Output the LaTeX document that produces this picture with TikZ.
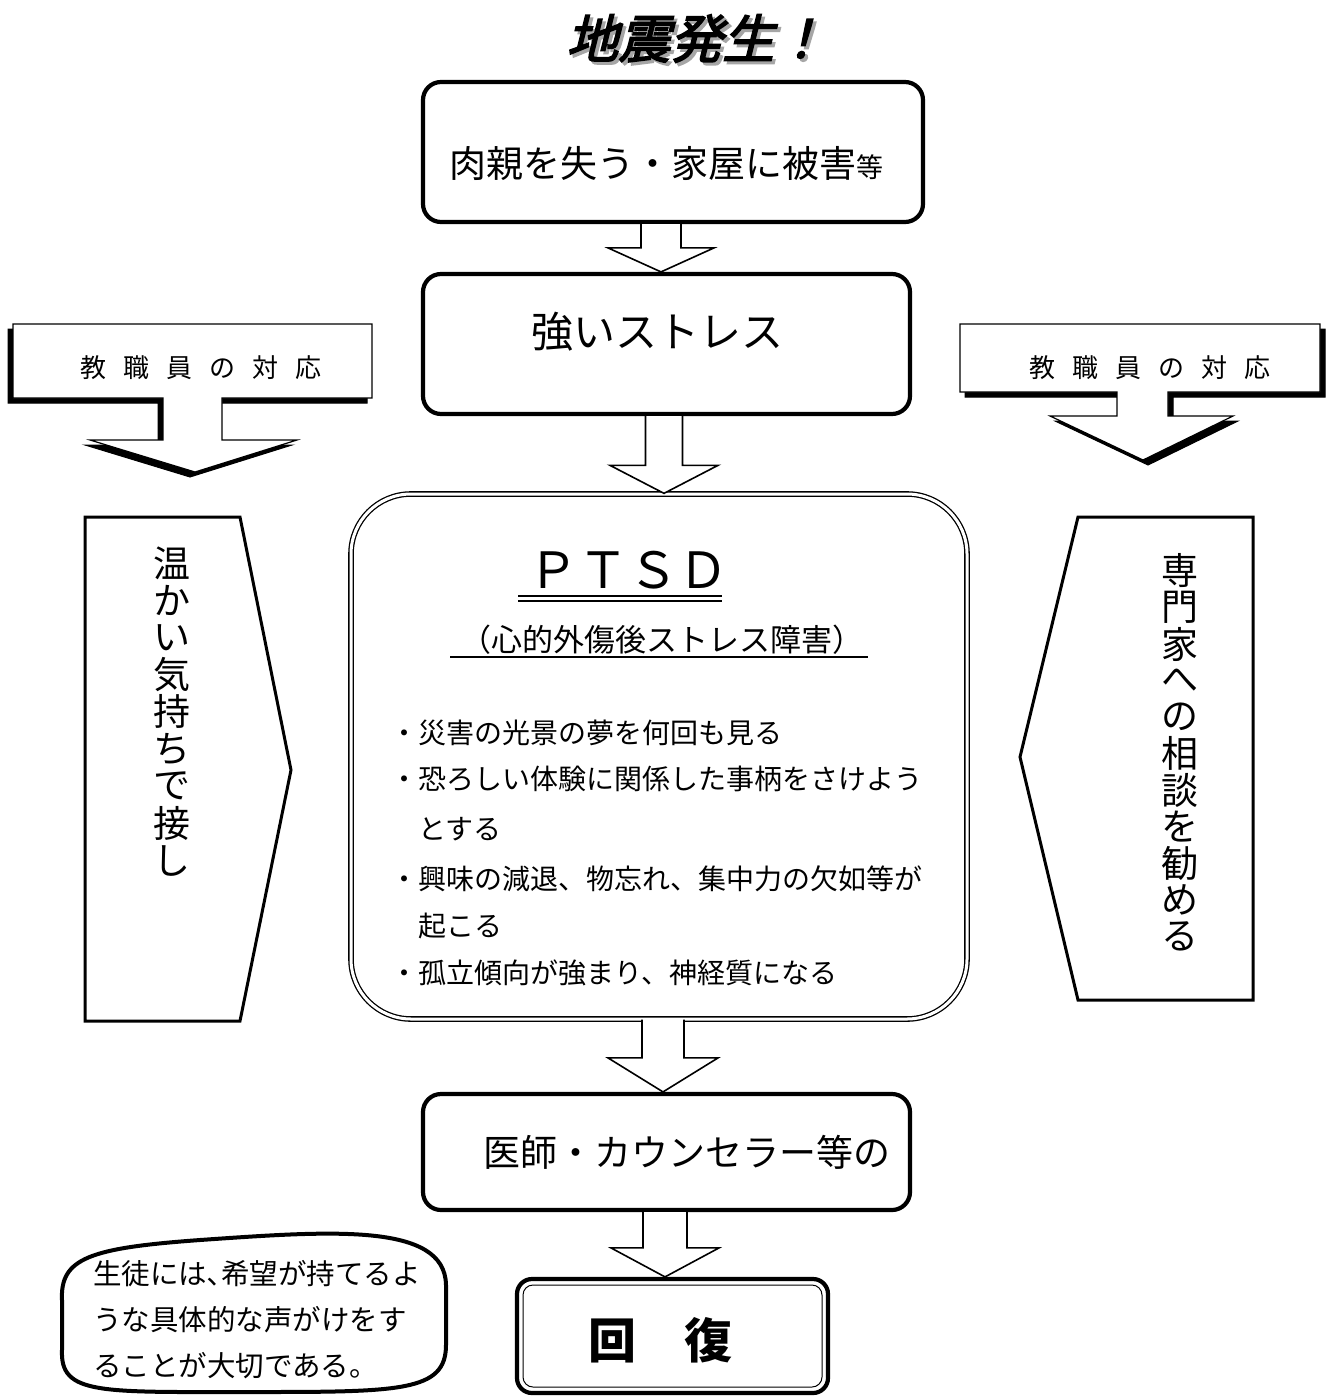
\documentclass[tikz,border=0pt]{standalone}
\usepackage{fontspec}
\setmainfont{Noto Sans CJK JP}
\newfontfamily\jptitle[FakeSlant=0.25,FakeBold=3]{Noto Sans CJK JP}
\usetikzlibrary{calc}
\newcommand{\fs}[1]{\fontsize{#1}{#1}\selectfont}
\newcommand{\kk}{\hspace{17pt}}
\tikzset{
  fbox/.style={draw, line width=4.2pt, rounded corners=18pt, fill=white, inner sep=0pt},
  harrowstyle/.style={draw, line width=1.6pt, fill=white, line join=miter},
  pentstyle/.style={draw, line width=3pt, fill=white, line join=miter},
  callstyle/.style={draw, line width=1.2pt, fill=white, line join=miter},
  shadowstyle/.style={fill=black, draw=black, line width=1pt, line join=miter},
  txt/.style={inner sep=0pt},
}
\newcommand{\harrow}[6]{%
  \draw[harrowstyle] let \p1=(#2.south), \p2=(#3.north) in
   ({(#1-#4)*1pt},\y1) -- ({(#1-#4)*1pt},{\y2+#6pt}) -- ({(#1-#5)*1pt},{\y2+#6pt})
   -- ({#1*1pt},\y2) -- ({(#1+#5)*1pt},{\y2+#6pt}) -- ({(#1+#4)*1pt},{\y2+#6pt})
   -- ({(#1+#4)*1pt},\y1);}
\begin{document}
\begin{tikzpicture}[x=1pt,y=-1pt]
\useasboundingbox[fill=white] (0,0) rectangle (1328,1399);

% title with shadow (one node)
\node[txt, anchor=west] (title) at (566,40) {\jptitle\fs{52}%
  \rlap{\hspace{3pt}\raisebox{-3pt}{\color{gray!70}地震発生！}}地震発生！};

% main boxes
\node[fbox, minimum width=500pt, minimum height=140pt] (b1) at (673,152) {};
\node[fbox, minimum width=487pt, minimum height=140pt] (b2) at (666.5,344) {};
\node[draw, line width=1.3pt, double, double distance=3pt, rounded corners=60pt, fill=white,
      inner sep=0pt, minimum width=616pt, minimum height=525pt] (ptsd) at (659,756.5) {};
\node[fbox, minimum width=487pt, minimum height=116pt] (b3) at (666.5,1152) {};
\node[fbox, rounded corners=15pt, minimum width=311pt, minimum height=114pt] (b4) at (672.5,1336) {};
\node[draw, line width=1pt, rounded corners=10pt, inner sep=0pt, minimum width=299pt, minimum height=102pt] (b4i) at (b4.center) {};

% hollow arrows
\harrow{661}{b1}{b2}{20}{53}{24}
\harrow{664}{b2}{ptsd}{18.5}{54}{28}
\harrow{663}{ptsd}{b3}{21}{55}{34}
\harrow{665}{b3}{b4}{22}{54}{29}

% box texts
\node[txt] (t1) at (666,163) {\fs{37}肉親を失う・家屋に被害{\fs{27}等}};
\node[txt] (t2) at (657,332) {\fs{42}強いストレス};
\node[txt, anchor=west] (t3) at (483,1152) {\fs{37}医師・カウンセラー等の};
\node[txt] (t4) at (660,1340) {\fs{48}\bfseries 回　復};

% PTSD texts
\node[txt] (pt) at (628,570) {\fs{50}ＰＴＳＤ};
\draw[line width=1.3pt] (518,596) -- (722,596) (518,601) -- (722,601);
\node[txt] (psub) at (662,640) {\fs{31}（心的外傷後ストレス障害）};
\draw[line width=2pt] (450,657) -- (868,657);
\node[txt, anchor=west] (l1) at (390,733) {\fs{28}・災害の光景の夢を何回も見る};
\node[txt, anchor=west] (l2) at (390,779) {\fs{28}・恐ろしい体験に関係した事柄をさけよう};
\node[txt, anchor=west] (l3) at (418,829) {\fs{28}とする};
\node[txt, anchor=west] (l4) at (390,879) {\fs{28}・興味の減退、物忘れ、集中力の欠如等が};
\node[txt, anchor=west] (l5) at (418,926) {\fs{28}起こる};
\node[txt, anchor=west] (l6) at (390,973) {\fs{28}・孤立傾向が強まり、神経質になる};

% left callout
\draw[shadowstyle] (8,329) -- (367,329) -- (367,403) -- (217,403) -- (217,445) -- (292,445) -- (190,477) -- (85,445) -- (158,445) -- (158,403) -- (8,403) -- cycle;
\draw[callstyle] (13,324) -- (372,324) -- (372,398) -- (222,398) -- (222,440) -- (297,440) -- (195,472) -- (90,440) -- (163,440) -- (163,398) -- (13,398) -- cycle;
\node[txt] (lc) at (201,368) {\fs{26}教\kk 職\kk 員\kk の\kk 対\kk 応};

% right callout
\draw[shadowstyle] (965,329) -- (1325,329) -- (1325,397) -- (1173,397) -- (1173,421) -- (1238,421) -- (1148,465) -- (1055,421) -- (1122,421) -- (1122,397) -- (965,397) -- cycle;
\draw[callstyle] (960,324) -- (1320,324) -- (1320,392) -- (1168,392) -- (1168,416) -- (1233,416) -- (1143,460) -- (1050,416) -- (1117,416) -- (1117,392) -- (960,392) -- cycle;
\node[txt] (rc) at (1150,368) {\fs{26}教\kk 職\kk 員\kk の\kk 対\kk 応};

% pentagons
\draw[pentstyle] (85,517) -- (240,517) -- (291,770) -- (240,1021) -- (85,1021) -- cycle;
\foreach \c [count=\i] in {温,か,い,気,持,ち,で,接,し}
  \node[txt] (lv\i) at (172,{563+(\i-1)*37.2}) {\fs{37}\c};
\draw[pentstyle] (1078,517) -- (1253,517) -- (1253,1000) -- (1078,1000) -- (1020,757) -- cycle;
\foreach \c [count=\i] in {専,門,家,へ,の,相,談,を,勧,め,る}
  \node[txt] (rv\i) at (1180,{571+(\i-1)*36.5}) {\fs{37}\c};

% note
\draw[line width=4pt] (62,1300) .. controls (60,1258) and (90,1248) .. (200,1240)
  .. controls (330,1231) and (445,1222) .. (446,1285) -- (446,1345)
  .. controls (446,1392) and (400,1392) .. (250,1392)
  .. controls (100,1392) and (60,1395) .. (62,1350) -- cycle;
\node[txt, anchor=west] (n1) at (93,1274) {\fs{28.5}生徒には､希望が持てるよ};
\node[txt, anchor=west] (n2) at (93,1320) {\fs{28.5}うな具体的な声がけをす};
\node[txt, anchor=west] (n3) at (93,1366) {\fs{28.5}ることが大切である。};
\end{tikzpicture}
\end{document}
